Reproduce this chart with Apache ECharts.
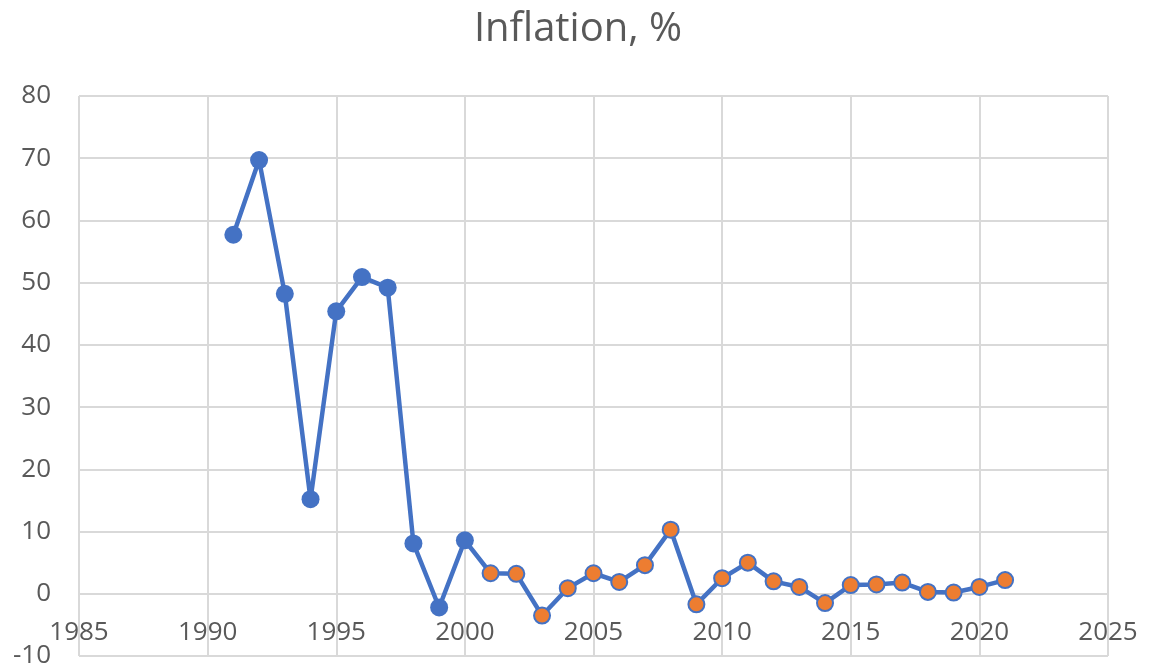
<!DOCTYPE html>
<html>
<head>
<meta charset="utf-8">
<script src="https://cdn.jsdelivr.net/npm/echarts@6/dist/echarts.min.js"></script>
<style>
  html, body { margin: 0; padding: 0; background: #fff; }
  #chart { width: 1156px; height: 668px; }
</style>
</head>
<body>
<div id="chart"></div>
<script>
let years = [1991, 1992, 1993, 1994, 1995, 1996, 1997, 1998, 1999, 2000,
    2001, 2002, 2003, 2004, 2005, 2006, 2007, 2008, 2009, 2010,
    2011, 2012, 2013, 2014, 2015, 2016, 2017, 2018, 2019, 2020, 2021];
let inflation = [57.7, 69.7, 48.2, 15.2, 45.4, 50.9, 49.2, 8.1, -2.2, 8.6,
    3.3, 3.2, -3.5, 0.9, 3.3, 1.9, 4.6, 10.3, -1.7, 2.5,
    5.0, 2.0, 1.1, -1.5, 1.4, 1.5, 1.8, 0.3, 0.2, 1.1, 2.2];
// from 2001 the markers are drawn orange
let firstOrangeYear = 2001;

let textColor = '#595959';
let gridColor = '#d9d9d9';
let font = '"Open Sans", "Noto Sans", sans-serif';

let points = [];
for (let i = 0; i < years.length; i++) {
    let item = { value: [years[i], inflation[i]] };
    if (years[i] >= firstOrangeYear) {
        item.symbolSize = 16;
        item.itemStyle = { color: '#ed7d31', borderColor: '#4472c4', borderWidth: 2 };
    }
    points.push(item);
}

let chart = echarts.init(document.getElementById('chart'));
let option = {
    animation: false,
    title: {
        text: 'Inflation, %',
        left: 'center',
        top: 5,
        textStyle: { color: textColor, fontSize: 40, fontWeight: 'normal', fontFamily: font }
    },
    grid: { left: 79, right: 48, top: 96, bottom: 12, outerBoundsMode: 'none', containLabel: false },
    xAxis: {
        type: 'value',
        min: 1985,
        max: 2025,
        interval: 5,
        axisLine: { lineStyle: { color: gridColor, width: 2 } },
        axisTick: { show: false },
        // labels sit just under the zero line, as in the original
        axisLabel: {
            inside: true, color: textColor, fontSize: 26, fontFamily: font, margin: 10,
            formatter: function (v) { return String(v); }
        },
        splitLine: { show: true, lineStyle: { color: gridColor, width: 2 } }
    },
    yAxis: {
        type: 'value',
        min: -10,
        max: 80,
        interval: 10,
        axisLine: { show: false },
        axisTick: { show: false },
        axisLabel: { color: textColor, fontSize: 26, fontFamily: font, margin: 28 },
        splitLine: { show: true, lineStyle: { color: gridColor, width: 2 } }
    },
    series: [
        {
            name: 'Inflation',
            type: 'line',
            data: points,
            symbol: 'circle',
            symbolSize: 18,
            lineStyle: { color: '#4472c4', width: 4.5 },
            itemStyle: { color: '#4472c4' }
        }
    ]
};
chart.setOption(option);
</script>
</body>
</html>
